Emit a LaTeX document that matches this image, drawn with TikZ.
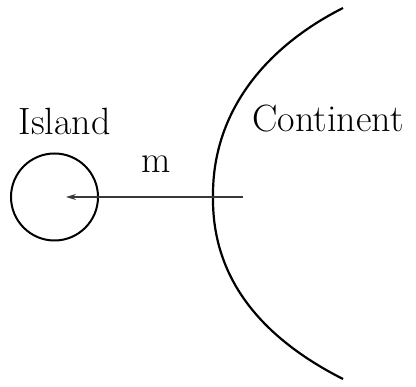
\documentclass[tikz,border=0pt]{standalone}
\usetikzlibrary{arrows.meta,positioning}

\begin{document}
\begin{tikzpicture}[x=1pt,y=1pt,>={Stealth[length=10pt,width=6pt]},
  label/.style={anchor=base,font=\fontsize{38}{45}\selectfont,inner sep=0pt}]
  \useasboundingbox (0,0) rectangle (416,387);
  % The island
  \node[draw,circle,line width=2pt,minimum size=87pt,inner sep=0pt] (island) at (54.5,190) {};
  \coordinate (centre) at (66,190);
  \node[label] (islandlabel) at (64.5,252) {Island};
  % The continent's coast
  \draw[line width=2.2pt] (343,379) .. controls (262,338) and (212,272) .. (213,190)
    .. controls (212,108) and (262,49) .. (343,8);
  \node[label] (contlabel) at (328,255) {Continent};
  % Distance m
  \coordinate (start) at (243,190);
  \draw[->,gray!45!black,line width=1.2pt] (start) -- (centre);
  \node[label] (mlabel) at (156,214) {m};
\end{tikzpicture}
\end{document}
